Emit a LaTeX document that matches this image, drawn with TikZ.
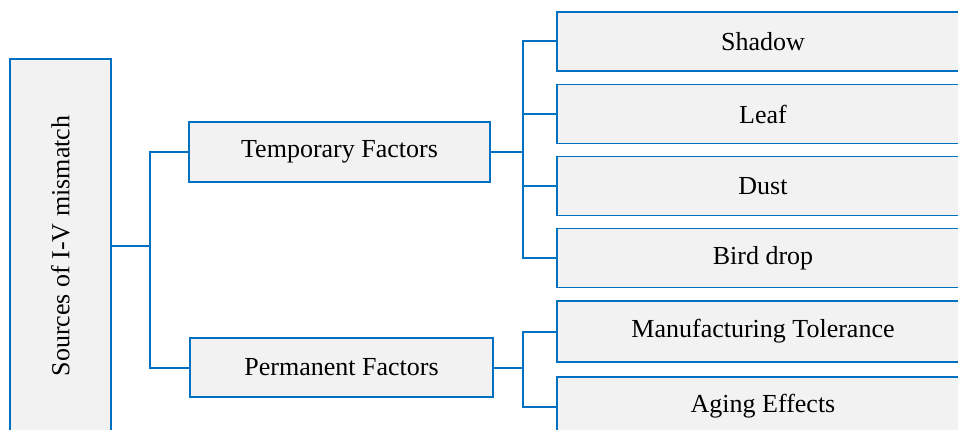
\documentclass[tikz,border=0pt]{standalone}
\usepackage{fontspec}
\setmainfont{Liberation Serif}
\definecolor{lineblue}{RGB}{0,112,192}
\definecolor{boxfill}{RGB}{242,242,242}
\begin{document}
\begin{tikzpicture}[x=1pt,y=-1pt,
  box/.style={draw=lineblue, line width=1.6pt, fill=boxfill, inner sep=0pt, font=\fontsize{26}{30}\selectfont},
  conn/.style={draw=lineblue, line width=2pt}]
\useasboundingbox (0,0) rectangle (958,430);
\clip (0,0) rectangle (958,430);
\node[box, minimum width=101pt, minimum height=374pt] (root) at (60.5,246) {};
\node[rotate=90, font=\fontsize{26}{30}\selectfont] (roottext) at (root.center) {Sources of I-V mismatch};
\node[box, minimum width=301pt, minimum height=60pt] (temp) at (339.5,152) {Temporary Factors};
\node[box, minimum width=303pt, minimum height=59pt] (perm) at (341.5,367.5) {Permanent Factors};
\node[box, minimum width=412pt, minimum height=59pt] (shadow) at (763,41.5) {Shadow};
\node[box, minimum width=412pt, minimum height=59pt] (leaf) at (763,114) {Leaf};
\node[box, minimum width=412pt, minimum height=59pt] (dust) at (763,186) {Dust};
\node[box, minimum width=412pt, minimum height=59pt] (bird) at (763,258) {Bird drop};
\node[box, minimum width=412pt, minimum height=61pt] (manu) at (763,331.5) {Manufacturing Tolerance};
\node[box, minimum width=412pt, minimum height=59pt] (aging) at (763,406.5) {Aging Effects};
\coordinate (j1) at (150,246);
\coordinate (j2) at (523,152);
\coordinate (j3) at (523,367.5);
\draw[conn] (root.east) -- (j1);
\draw[conn] (temp.west) -| (j1) |- (perm.west);
\draw[conn] (temp.east) -- (j2);
\draw[conn] (shadow.west) -| (j2) |- (bird.west);
\draw[conn] (j2 |- leaf.west) -- (leaf.west);
\draw[conn] (j2 |- dust.west) -- (dust.west);
\draw[conn] (perm.east) -- (j3);
\draw[conn] (manu.west) -| (j3) |- (aging.west);
\end{tikzpicture}
\end{document}
